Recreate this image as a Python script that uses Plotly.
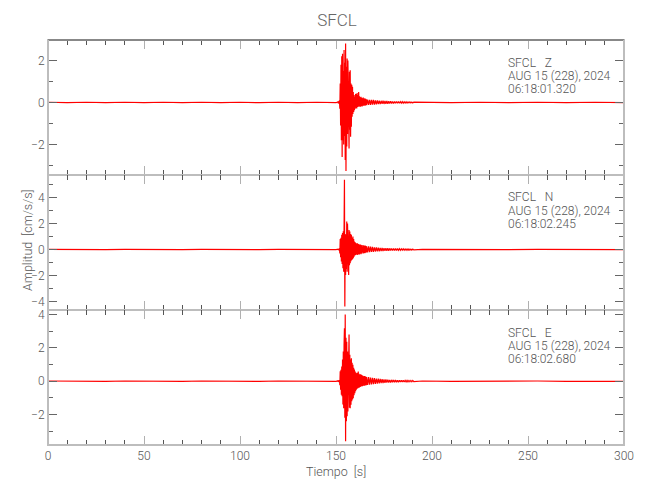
import numpy as np
import plotly.graph_objects as go
from plotly.subplots import make_subplots

# ---------------- data ----------------
STATION = "SFCL"
COMPONENTS = ["Z", "N", "E"]
START_TIMES = ["06:18:01.320", "06:18:02.245", "06:18:02.680"]
DATE_LABEL = "AUG 15 (228), 2024"

# pre-event noise, sampled every 10 s from 0 to 150 s
PRE_T0, PRE_DT = 0.0, 10.0
z_pre = [0.01, -0.01, 0.01, -0.01, 0.01, -0.01, 0.01, -0.01, 0.01, -0.01, 0.01, -0.01, 0.01, -0.01, 0.01, -0.01]
n_pre = [0.01, -0.01, 0.01, -0.01, 0.01, -0.01, 0.01, -0.01, 0.01, -0.01, 0.01, -0.01, 0.01, -0.01, 0.01, -0.01]
e_pre = [0.01, -0.01, 0.01, -0.01, 0.01, -0.01, 0.01, -0.01, 0.01, -0.01, 0.01, -0.01, 0.01, -0.01, 0.01, -0.01]

# main burst, sampled every 0.2 s from 151.0 s
BURST_T0, BURST_DT = 151.0, 0.2
z_burst = [0.03, -0.04, 0.05, -0.06, 0.1, -0.3, 0.9, -1.1, 1.8, -1.8,
           2.2, -2.6, 2.33, -1.8, 1.5, -2.0, 2.5, -1.6, 1.9, -2.75,
           2.81, -3.27, 1.7, -2.1, 2.1, -1.5, 2.0, -1.8, 1.2, -2.2,
           1.46, -1.3, 1.54, -1.63, 0.9, -1.16, 0.85, -0.68, 0.75, -0.55,
           0.5, -0.45, 0.35, -0.37, 0.27, -0.3, 0.4, -0.25, 0.43, -0.29,
           0.35, -0.22, 0.45, -0.2, 0.5, -0.18, 0.3, -0.2, 0.25, -0.2,
           0.27, -0.17, 0.22, -0.19, 0.2, -0.15, 0.24, -0.16, 0.18, -0.14,
           0.2, -0.16, 0.17, -0.12, 0.15]
n_burst = [0.02, -0.03, 0.04, -0.05, 0.08, -0.3, 0.8, -0.6, 0.9, -0.92,
           1.13, -1.1, 1.26, -1.44, 1.4, -1.7, 1.64, 5.36, -4.38, 1.2,
           -1.95, 1.13, -1.5, 2.15, -1.7, 2.0, -1.44, 1.77, -1.95, 1.5,
           -1.2, 1.38, -1.05, 1.2, -0.9, 1.13, -0.8, 0.9, -0.75, 1.0,
           -0.67, 0.8, -0.55, 0.62, -0.45, 0.55, -0.41, 0.5, -0.38, 0.45,
           -0.4, 0.49, -0.41, 0.42, -0.35, 0.4, -0.38, 0.36, -0.3, 0.38,
           -0.36, 0.33, -0.3, 0.35, -0.28, 0.3, -0.3, 0.32, -0.26, 0.28,
           -0.28, 0.31, -0.24, 0.26, -0.22]
e_burst = [0.02, -0.03, 0.04, -0.05, 0.07, -0.25, 0.6, -0.52, 0.68, -0.82,
           0.88, -0.9, 1.3, -1.4, 1.78, -1.62, 2.2, 3.17, -2.2, 4.0,
           -3.61, 2.6, -2.4, 2.37, -2.1, 1.78, -1.82, 1.6, -1.5, 2.8,
           -1.6, 1.58, -1.62, 1.3, -1.42, 1.38, -1.2, 1.1, -1.1, 0.98,
           -1.02, 0.8, -0.85, 0.7, -0.72, 0.58, -0.6, 0.5, -0.52, 0.48,
           -0.45, 0.5, -0.42, 0.58, -0.4, 0.45, -0.38, 0.4, -0.35, 0.42,
           -0.32, 0.38, -0.3, 0.35, -0.3, 0.33, -0.28, 0.3, -0.27, 0.31,
           -0.28, 0.3, -0.25, 0.27, -0.24]

# coda, sampled every 0.5 s from 166.0 s
CODA_T0, CODA_DT = 166.0, 0.5
z_coda = [-0.13, 0.14, -0.12, 0.13, -0.11, 0.12, -0.1, 0.12, -0.1, 0.1,
          -0.09, 0.1, -0.08, 0.09, -0.08, 0.08, -0.07, 0.08, -0.07, 0.07,
          -0.06, 0.07, -0.06, 0.06, -0.05, 0.06, -0.05, 0.05, -0.05, 0.05,
          -0.04, 0.05, -0.04, 0.04, -0.04, 0.04, -0.03, 0.04, -0.03, 0.03,
          -0.03, 0.03, -0.03, 0.03, -0.02, 0.03, -0.02, 0.02, -0.02, 0.02]
n_coda = [0.25, -0.22, 0.24, -0.2, 0.22, -0.19, 0.2, -0.18, 0.17, -0.15,
          0.16, -0.14, 0.14, -0.13, 0.13, -0.12, 0.12, -0.11, 0.11, -0.1,
          0.1, -0.1, 0.1, -0.09, 0.09, -0.08, 0.08, -0.08, 0.08, -0.07,
          0.07, -0.07, 0.07, -0.06, 0.06, -0.06, 0.06, -0.05, 0.06, -0.05,
          0.05, -0.05, 0.05, -0.05, 0.04, -0.04, 0.04, -0.04, 0.04, -0.03]
e_coda = [0.25, -0.23, 0.24, -0.21, 0.22, -0.2, 0.2, -0.18, 0.18, -0.16,
          0.16, -0.15, 0.15, -0.14, 0.14, -0.12, 0.12, -0.11, 0.11, -0.1,
          0.1, -0.09, 0.09, -0.08, 0.08, -0.08, 0.08, -0.07, 0.07, -0.07,
          0.07, -0.06, 0.06, -0.06, 0.06, -0.05, 0.05, -0.05, 0.05, -0.05,
          0.05, -0.04, 0.05, -0.04, 0.04, -0.04, 0.04, -0.04, 0.04, -0.03]

# post-event noise, sampled every 15 s from 195 s
POST_T0, POST_DT = 195.0, 15.0
z_post = [0.01, -0.01, 0.01, -0.01, 0.01, -0.01, 0.01, -0.01]
n_post = [0.01, -0.01, 0.01, -0.01, 0.01, -0.01, 0.01, -0.01]
e_post = [0.01, -0.01, 0.01, -0.01, 0.01, -0.01, 0.01, -0.01]

Y_RANGES = [[-3.46, 2.98], [-4.64, 5.72], [-3.83, 4.27]]
X_TICKS = [0, 50, 100, 150, 200, 250, 300]

traces = {
    "Z": (z_pre, z_burst, z_coda, z_post),
    "N": (n_pre, n_burst, n_coda, n_post),
    "E": (e_pre, e_burst, e_coda, e_post),
}

def sample_times(t0, dt, vals):
    return list(t0 + dt * np.arange(len(vals)))

# ---------------- figure ----------------
# the page body has an 8 px margin, so all reference pixel positions are shifted by -8
OFF = 8
W, H = 650 - OFF, 500 - OFF
ML, MR, MT, MB = 48 - OFF, 26, 40 - OFF, 55
FONT = "Roboto, Liberation Sans, sans-serif"
TXT = "#555555"
FRAME = "#bdbdbd"

fig = make_subplots(rows=3, cols=1, shared_xaxes=True, vertical_spacing=0)

for i, comp in enumerate(COMPONENTS):
    pre, burst, coda, post = traces[comp]
    t = (sample_times(PRE_T0, PRE_DT, pre) + sample_times(BURST_T0, BURST_DT, burst)
         + sample_times(CODA_T0, CODA_DT, coda) + sample_times(POST_T0, POST_DT, post))
    y = pre + burst + coda + post
    fig.add_trace(go.Scatter(x=t, y=y, mode="lines",
                             line=dict(color="#ff0000", width=1.2),
                             hoverinfo="skip", showlegend=False),
                  row=i + 1, col=1)

axis_common = dict(showline=True, linewidth=1, linecolor=FRAME, mirror="ticks",
                   ticks="inside", ticklen=9, tickwidth=1, showgrid=False, zeroline=False,
                   tickfont=dict(family=FONT, size=12, color=TXT, weight=300))

for i in range(3):
    fig.update_xaxes(range=[0, 300], tickvals=X_TICKS, tickcolor="#b0b0b0",
                     minor=dict(dtick=10, tick0=0, ticklen=5, tickcolor="#555555", ticks="inside"),
                     showticklabels=(i == 2), ticklabelstandoff=0,
                     row=i + 1, col=1, **axis_common)
    fig.update_yaxes(range=Y_RANGES[i], dtick=2, tick0=0, tickcolor="#666666",
                     minor=dict(dtick=1, tick0=0, ticklen=5, tickcolor="#666666", ticks="inside"),
                     row=i + 1, col=1, **axis_common)

plot_h = H - MT - MB
plot_w = W - ML - MR

def py(ypx_ref):
    return (H - MB - (ypx_ref - OFF)) / plot_h

def px(xpx_ref):
    return ((xpx_ref - OFF) - ML) / plot_w

panel_tops = [40, 40 + 405 / 3, 40 + 2 * 405 / 3]
annotations = []
for i, comp in enumerate(COMPONENTS):
    lines = [f"{STATION}\u00a0\u00a0\u00a0{comp}", DATE_LABEL, START_TIMES[i]]
    for k, (txt, off) in enumerate(zip(lines, [22.5, 36, 49])):
        annotations.append(dict(text=txt, xref="paper", yref="paper",
                                x=px(506), y=py(panel_tops[i] + off),
                                xanchor="left", yanchor="middle", showarrow=False,
                                font=dict(family=FONT, size=12, color=TXT, weight=300)))

annotations.append(dict(text="Amplitud  [cm/s/s]", xref="paper", yref="paper",
                        x=px(27), y=py(240), textangle=-90, showarrow=False,
                        xanchor="center", yanchor="middle",
                        font=dict(family=FONT, size=12.5, color=TXT, weight=300)))
annotations.append(dict(text="Tiempo  [s]", xref="paper", yref="paper",
                        x=px(336), y=py(471.5), showarrow=False,
                        xanchor="center", yanchor="middle",
                        font=dict(family=FONT, size=12.5, color=TXT, weight=300)))

# frame: 2 px outer box and panel separators
shapes = [
    dict(type="line", xref="paper", yref="paper", x0=0, x1=1, y0=1, y1=1,
         line=dict(color="#888888", width=2)),
    dict(type="line", xref="paper", yref="paper", x0=0, x1=1, y0=0, y1=0,
         line=dict(color=FRAME, width=2)),
    dict(type="line", xref="paper", yref="paper", x0=0, x1=0, y0=0, y1=1,
         line=dict(color=FRAME, width=2)),
    dict(type="line", xref="paper", yref="paper", x0=1, x1=1, y0=0, y1=1,
         line=dict(color=FRAME, width=2)),
]

fig.update_layout(
    width=W, height=H,
    margin=dict(l=ML, r=MR, t=MT, b=MB, autoexpand=False),
    paper_bgcolor="white", plot_bgcolor="white",
    title=dict(text=STATION, x=(337 - OFF) / W, xanchor="center",
               y=1 - (20 - OFF) / H, yanchor="middle", yref="container", xref="container",
               font=dict(family=FONT, size=17, color="#666666", weight=300)),
    annotations=annotations,
    shapes=shapes,
)

fig.write_html("out.html")
